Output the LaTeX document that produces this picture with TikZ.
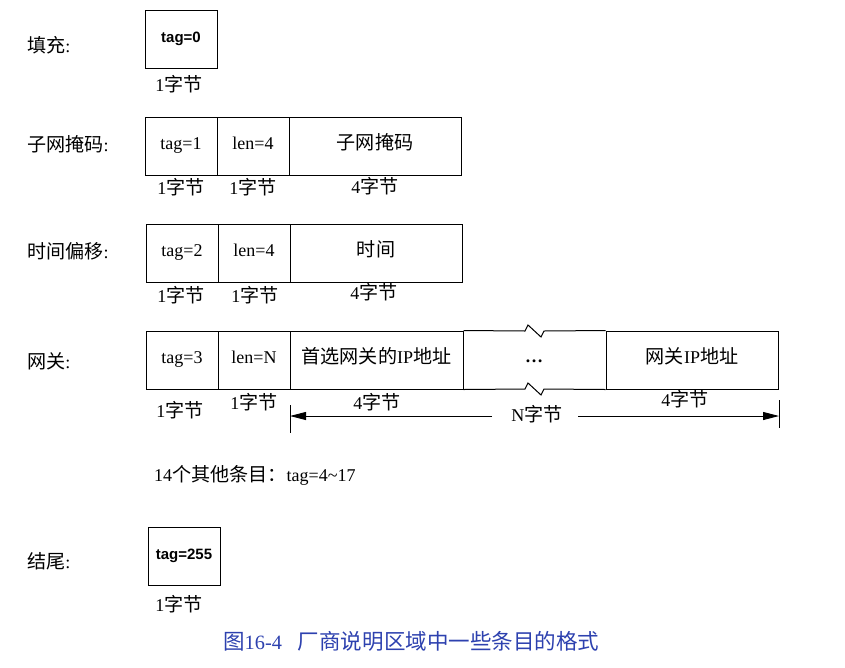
\documentclass[tikz,border=0pt]{standalone}
\usepackage{fontspec}
\setmainfont{Liberation Serif}
\newfontfamily\zh[Scale=1.06]{Noto Sans CJK SC}
\newfontfamily\bsans{Liberation Sans}
\newcommand{\zhtxt}[1]{{\zh #1}}
\usetikzlibrary{arrows.meta}
\definecolor{capblue}{RGB}{45,65,175}
\begin{document}
\begin{tikzpicture}[x=1pt,y=-1pt,
  cell/.style={draw, line width=1pt, inner sep=0pt, minimum height=58pt, text height=12pt, text depth=6pt, font=\fontsize{18}{18}\selectfont},
  txt/.style={inner sep=0pt, text height=12pt, text depth=0pt, font=\fontsize{18}{18}\selectfont},
  boldtxt/.style={font=\bsans\bfseries\fontsize{15}{15}\selectfont},
  dimline/.style={line width=0.9pt},
  dimarrow/.style={line width=0.9pt, -{Triangle[length=16pt,width=8pt]}}]
\fill[white] (0,0) rectangle (845,667);
\useasboundingbox (0,0) rectangle (845,667);

% padding
\node[txt,anchor=west] (padl) at (27,46) {\zhtxt{填充}:};
\node[cell,boldtxt,minimum width=72pt] (pad) at (181,39) {tag=0};
\node[txt] (padb) at (179,85) {1\zhtxt{字节}};

% subnet mask
\node[txt,anchor=west] (subl) at (27,145) {\zhtxt{子网掩码}:};
\node[cell,minimum width=72pt] (s1) at (181,146) {tag=1};
\node[cell,minimum width=72pt] (s2) at (253,146) {len=4};
\node[cell,minimum width=172pt] (s3) at (375,146) {\zhtxt{子网掩码}};
\node[txt] (s1b) at (181,188) {1\zhtxt{字节}};
\node[txt] (s2b) at (253,188) {1\zhtxt{字节}};
\node[txt] (s3b) at (375,187) {4\zhtxt{字节}};

% time offset
\node[txt,anchor=west] (timl) at (27,252) {\zhtxt{时间偏移}:};
\node[cell,minimum width=72pt] (t1) at (182,253) {tag=2};
\node[cell,minimum width=72pt] (t2) at (254,253) {len=4};
\node[cell,minimum width=172pt] (t3) at (376,253) {\zhtxt{时间}};
\node[txt] (t1b) at (181,296) {1\zhtxt{字节}};
\node[txt] (t2b) at (255,296) {1\zhtxt{字节}};
\node[txt] (t3b) at (374,293) {4\zhtxt{字节}};

% gateway
\node[txt,anchor=west] (gwl) at (27,362) {\zhtxt{网关}:};
\node[cell,minimum width=72pt] (g1) at (182,360) {tag=3};
\node[cell,minimum width=72pt] (g2) at (254,360) {len=N};
\node[cell,minimum width=173pt] (g3) at (376.5,360) {\zhtxt{首选网关的}IP\zhtxt{地址}};
\node[cell,minimum width=172pt] (g5) at (692,360) {\zhtxt{网关}IP\zhtxt{地址}};
\node[txt] (dots) at (534,356) {\bfseries\textellipsis};
\draw[line width=1pt] (g3.north east) -- (525,331) -- (528,325) -- (541,337) -- (544,331) -- (g5.north west);
\draw[line width=1pt] (g3.south east) -- (525,389) -- (528,383) -- (541,395) -- (544,389) -- (g5.south west);
\node[txt] (g1b) at (180,411) {1\zhtxt{字节}};
\node[txt] (g2b) at (254,403) {1\zhtxt{字节}};
\node[txt] (g3b) at (377,403) {4\zhtxt{字节}};
\node[txt] (g5b) at (685,400) {4\zhtxt{字节}};
\node[txt] (nb) at (537,415) {N\zhtxt{字节}};
\draw[dimline] (290,405) -- (290,433);
\draw[dimline] (779,400) -- (779,428);
\coordinate (dl) at (290,416);
\coordinate (dr) at (779,416);
\coordinate (al) at (492,416);
\coordinate (ar) at (578,416);
\draw[dimarrow] (al) -- (dl);
\draw[dimarrow] (ar) -- (dr);

% others
\node[txt,anchor=west] (oth) at (154,475) {14\zhtxt{个其他条目：}tag=4\textasciitilde 17};

% end
\node[txt,anchor=west] (endl) at (27,562) {\zhtxt{结尾}:};
\node[cell,boldtxt,minimum width=72pt] (endc) at (184,556) {tag=255};
\node[txt] (endb) at (179,605) {1\zhtxt{字节}};

% caption
\node[txt,anchor=west,text=capblue,font=\fontsize{20.3}{20.3}\selectfont,text height=14pt] (cap) at (223,642) {\zhtxt{图}16-4\hspace{16pt}\zhtxt{厂商说明区域中一些条目的格式}};
\end{tikzpicture}
\end{document}
